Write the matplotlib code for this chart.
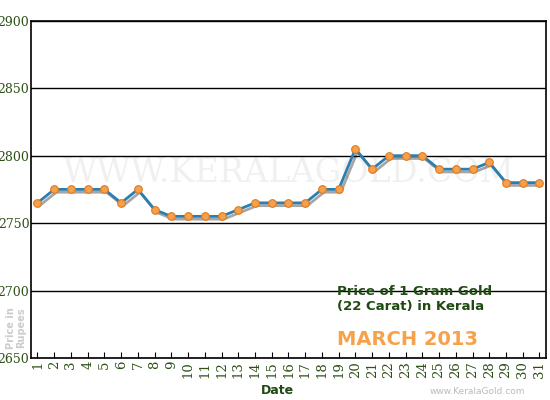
import matplotlib.pyplot as plt
import matplotlib.patheffects as pe

days = list(range(1, 32))
prices = [2765, 2775, 2775, 2775, 2775, 2765, 2775, 2760, 2755, 2755,
          2755, 2755, 2760, 2765, 2765, 2765, 2765, 2775, 2775, 2805,
          2790, 2800, 2800, 2800, 2790, 2790, 2790, 2795, 2780, 2780, 2780]
yticks = [2650, 2700, 2750, 2800, 2850, 2900]

green = "#2d5016"
fig = plt.figure(figsize=(5.5, 4.0), dpi=100)
ax = fig.add_axes([0.056, 0.105, 0.937, 0.843])

shadow = [pe.SimpleLineShadow(offset=(1.5, -2), alpha=0.35), pe.Normal()]
ax.plot(days, prices, color="#2a7fb0", lw=2, path_effects=shadow, zorder=3)
ax.plot(days, prices, ls="none", marker="o", ms=5.5,
        mfc="#f5a04a", mec="#e07a20", mew=0.8, zorder=4)

ax.set_xlim(0.6, 31.4)
ax.set_ylim(2650, 2900)
ax.set_yticks(yticks)
ax.set_xticks(days)
ax.grid(axis="y", color="black", lw=1)
ax.tick_params(axis="y", length=0, labelsize=9, labelcolor=green, pad=1)
ax.tick_params(axis="x", length=4, direction="in", labelsize=9.5,
               labelcolor=green, labelrotation=90, pad=2)
for lab in ax.get_xticklabels() + ax.get_yticklabels():
    lab.set_family("DejaVu Serif")
for s in ax.spines.values():
    s.set_linewidth(1.2)

ax.text(0.5, 0.55, "WWW.KERALAGOLD.COM", transform=ax.transAxes, ha="center",
        va="center", fontsize=24, family="DejaVu Serif", color="#f0f0f0", zorder=0)
ax.text(0.595, 0.175, "Price of 1 Gram Gold\n(22 Carat) in Kerala", transform=ax.transAxes,
        fontsize=9.5, fontweight="bold", color="#1f4a12", va="center", linespacing=1.15)
ax.text(0.595, 0.055, "MARCH 2013", transform=ax.transAxes, fontsize=14,
        fontweight="bold", color="#f7a24a", va="center")
fig.text(0.03, 0.18, "Price in\nRupees", rotation=90, fontsize=7, fontweight="bold",
         color="#cccccc", ha="center", va="center", linespacing=1.0)
fig.text(0.505, 0.015, "Date", fontsize=9, fontweight="bold", color="#1f4a12", ha="center")
fig.text(0.955, 0.015, "www.KeralaGold.com", fontsize=6.5, color="#bbbbbb", ha="right")

fig.savefig("out.png")
